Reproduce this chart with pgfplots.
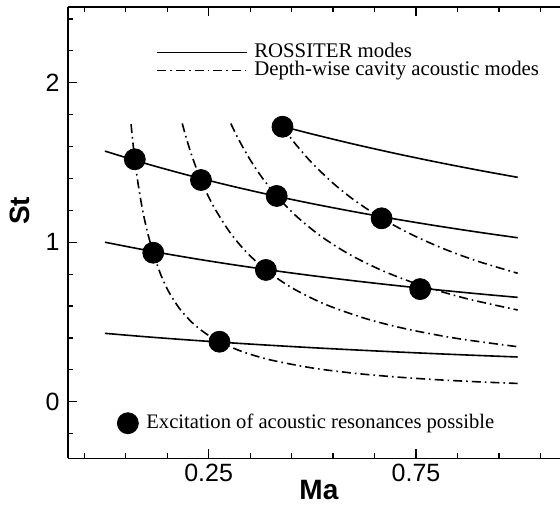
\documentclass[border=0pt]{standalone}
\usepackage{fontspec}
\setmainfont{Liberation Serif}
\setsansfont{Liberation Sans}
\usepackage{pgfplots}
\pgfplotsset{compat=1.18}

\pgfplotsset{
  common/.style={
    width=246pt, height=225.5pt, scale only axis,
    xmin=-0.089, xmax=1.097, ymin=-0.355, ymax=2.473,
  },
  ross/.style={black, line width=0.8pt, smooth},
  acou/.style={black, line width=0.8pt, smooth, dash pattern=on 4.5pt off 2pt on 0.8pt off 2pt},
}

\begin{document}
\begin{tikzpicture}
\begin{axis}[common,
  axis x line*=box, axis y line*=left,
  xtick={0.25,0.75}, xticklabels={0.25,0.75},
  minor xtick={-0.05,0.05,0.15,0.35,0.45,0.55,0.65,0.85,0.95,1.05},
  ytick={0,1,2},
  minor ytick={-0.2,0.2,0.4,0.6,0.8,1.2,1.4,1.6,1.8,2.2,2.4},
  xtick pos=both, ytick pos=left, xticklabel pos=left,
  tick align=inside,
  major tick length=4.5pt, minor tick length=2.6pt,
  tick style={black, line width=0.6pt},
  axis line style={black, line width=0.8pt},
  ticklabel style={font=\sffamily\fontsize{12.5}{13}\selectfont},
  /pgf/number format/assume math mode=true,
  xticklabel style={inner sep=0pt, anchor=north, yshift=-2.5pt},
  yticklabel style={inner sep=0pt, anchor=east, xshift=-4pt},
  xlabel={Ma}, ylabel={St},
  label style={font=\sffamily\bfseries\fontsize{14}{16}\selectfont},
  xlabel style={at={(rel axis cs:0.51,0)}, anchor=base, yshift=-20.6pt},
  ylabel style={at={([xshift=-24pt]rel axis cs:0,0.549)}, anchor=center},
  legend style={draw=none, fill=none, inner sep=0pt, outer sep=0pt,
    at={(axis cs:0.1247,2.245)}, anchor=north west,
    column sep=3pt, row sep=0pt,
    font=\fontsize{10.4}{12}\selectfont,
    nodes={inner sep=0pt, text height=7pt, text depth=2pt}},
  legend cell align=left,
  legend image code/.code={\draw[#1] (0pt,0pt) -- (45pt,0pt);},
]
\coordinate (O) at (rel axis cs:0,0);
% ROSSITER modes
\addplot[ross] coordinates {(0,0.4286) (0.1,0.4069) (0.2,0.3874) (0.3,0.3696) (0.4,0.3534) (0.5,0.3386) (0.6,0.3250) (0.7,0.3124) (0.8,0.3007) (0.9,0.2899) (0.995,0.2803)};
\addlegendentry{ROSSITER modes}
% depth-wise acoustic modes
\addplot[acou] coordinates {(0.063,1.741) (0.066,1.6605) (0.072,1.520) (0.08,1.366) (0.09,1.2123) (0.102,1.0682) (0.1165,0.934) (0.135,0.7941) (0.155,0.6838) (0.18,0.5834) (0.21,0.4968) (0.24,0.4332) (0.276,0.3762) (0.33,0.3150) (0.4,0.2613) (0.5,0.2114) (0.6,0.1785) (0.7,0.1553) (0.8,0.1379) (0.9,0.1245) (0.995,0.1143)};
\addlegendentry{Depth-wise cavity acoustic modes}
\addplot[ross, forget plot] coordinates {(0,1.0) (0.1,0.9495) (0.2,0.9039) (0.3,0.8625) (0.4,0.8247) (0.5,0.7901) (0.6,0.7582) (0.7,0.7289) (0.8,0.7017) (0.9,0.6765) (0.995,0.6541)};
\addplot[ross, forget plot] coordinates {(0,1.5714) (0.1,1.4921) (0.2,1.4205) (0.3,1.3553) (0.4,1.2959) (0.5,1.2415) (0.6,1.1915) (0.7,1.1453) (0.8,1.1026) (0.9,1.0630) (0.995,1.0279)};
\addplot[ross, forget plot] coordinates {(0.428,1.7262) (0.5,1.6779) (0.6,1.6150) (0.7,1.5567) (0.8,1.5024) (0.9,1.4518) (0.995,1.4068)};
\addplot[acou, forget plot] coordinates {(0.1864,1.745) (0.195,1.6635) (0.21,1.5387) (0.2315,1.390) (0.26,1.2334) (0.3,1.0666) (0.34,0.9410) (0.388,0.826) (0.45,0.7151) (0.53,0.6115) (0.63,0.5200) (0.73,0.4542) (0.85,0.3960) (0.995,0.3447)};
\addplot[acou, forget plot] coordinates {(0.3035,1.744) (0.32,1.656) (0.345,1.5388) (0.375,1.4192) (0.414,1.2902) (0.46,1.1666) (0.52,1.0387) (0.59,0.9228) (0.67,0.8204) (0.76,0.7312) (0.87,0.6475) (0.995,0.575)};
\addplot[acou, forget plot] coordinates {(0.428,1.724) (0.46,1.6135) (0.5,1.4948) (0.55,1.3701) (0.6,1.2658) (0.667,1.150) (0.74,1.0473) (0.82,0.9554) (0.9,0.8796) (0.995,0.8052)};
\end{axis}
\begin{axis}[common, hide axis,
  legend style={draw=none, fill=none, inner sep=0pt, outer sep=0pt,
    at={(axis cs:0.030,-0.135)}, anchor=west,
    column sep=4pt,
    font=\fontsize{10.3}{12}\selectfont,
    nodes={inner sep=0pt, text height=7pt, text depth=2pt}},
  legend cell align=left,
  legend image code/.code={\draw[#1] plot coordinates {(0pt,0pt)};},
]
\addplot[only marks, mark=*, mark size=5.25pt, black] coordinates {(0.072,1.520) (0.1165,0.934) (0.276,0.376) (0.2315,1.390) (0.388,0.826) (0.414,1.290) (0.760,0.706) (0.428,1.724) (0.667,1.150)};
\addlegendentry{Excitation of acoustic resonances possible}
\end{axis}
\pgfresetboundingbox
\path ([xshift=-34pt,yshift=-22.85pt]O) rectangle ([xshift=246pt,yshift=229.15pt]O);
\end{tikzpicture}
\end{document}
